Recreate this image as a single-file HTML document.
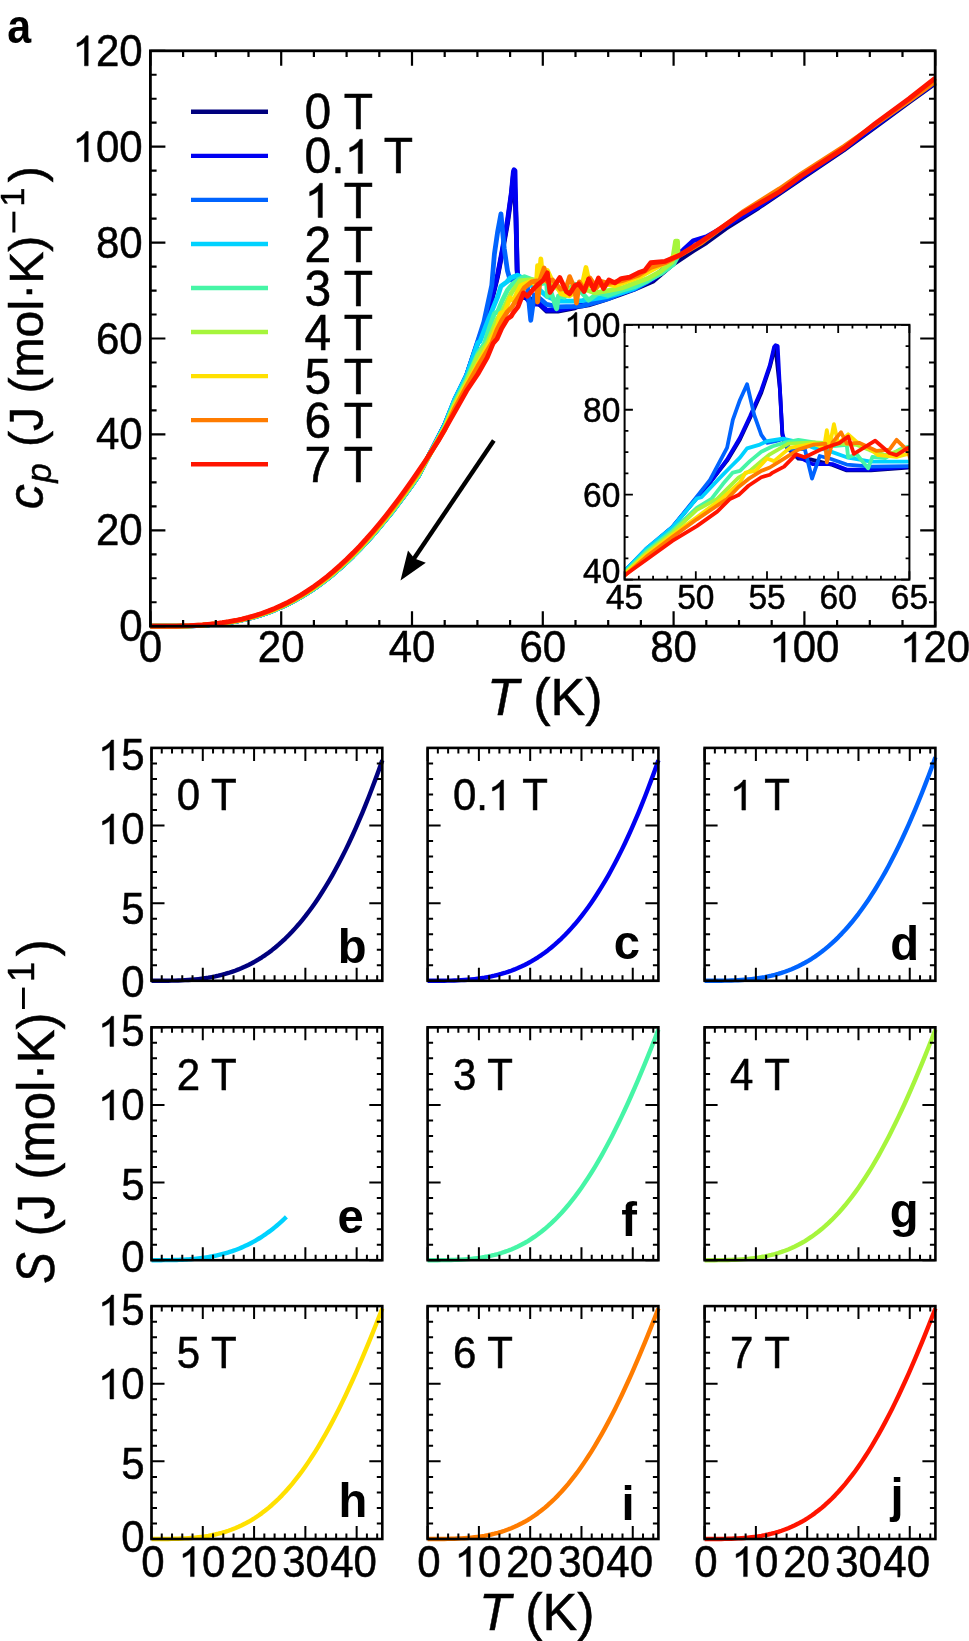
<!DOCTYPE html>
<html><head><meta charset="utf-8"><style>
html,body{margin:0;padding:0;background:#fff;width:969px;height:1641px;overflow:hidden;position:relative}
</style></head><body>
<svg width="969" height="1641" viewBox="0 0 969 1641" style="position:absolute;left:0;top:0;will-change:transform">
<g font-family='"Liberation Sans", sans-serif' fill="#000" stroke="#000" stroke-width="0">
<g fill="none" stroke-width="4.8" stroke-linejoin="round" stroke-linecap="butt">
<polyline stroke="#00007e" points="150.4,626.2 163.48,626.23 176.56,626.18 189.64,625.91 202.72,625.28 215.8,624.17 222.34,623.4 228.88,622.45 235.42,621.32 241.96,619.99 248.5,618.45 255.04,616.69 261.58,614.68 268.12,612.42 274.66,609.9 281.2,607.1 287.74,604.02 294.28,600.64 300.82,596.96 307.36,592.97 313.9,588.67 320.44,584.04 326.98,579.08 333.52,573.79 340.06,568.17 346.6,562.22 353.14,555.93 359.68,549.31 366.22,542.36 372.76,535.09 379.3,527.5 385.84,519.59 392.38,511.38 398.92,502.88 405.46,494.08 412,485.02 418.54,475.69 444.7,424.81 454.51,400.84 466.61,375.42 477.14,344.25 484.59,322.68 491.79,300.14 497.67,276.17 502.25,252.19 507.48,223.42 511.41,194.65 513.37,175.47 514.02,173.07 515.99,218.62 517.16,271.37 518.6,283.36 524.49,297.74 530.05,298.7 540.18,304.94 546.72,311.17 557.84,311.17 574.85,307.81 576.81,306.85 588.58,304.94 603.62,300.14 618.01,295.34 633.71,289.59 653.33,280.96 672.95,264.18 693.22,250.75 706.3,242.6 725.92,228.22 758.62,207.6 804.4,176.43 843.64,150.06 882.88,121.29 909.04,102.11 935.2,83.41"/>
<polyline stroke="#0000f2" points="150.4,626.2 163.48,626.23 176.56,626.18 189.64,625.91 202.72,625.28 215.8,624.17 222.34,623.4 228.88,622.45 235.42,621.32 241.96,619.99 248.5,618.45 255.04,616.69 261.58,614.68 268.12,612.42 274.66,609.9 281.2,607.1 287.74,604.02 294.28,600.64 300.82,596.96 307.36,592.97 313.9,588.67 320.44,584.04 326.98,579.08 333.52,573.79 340.06,568.17 346.6,562.22 353.14,555.93 359.68,549.31 366.22,542.36 372.76,535.09 379.3,527.5 385.84,519.59 392.38,511.38 398.92,502.88 405.46,494.08 412,485.02 418.54,475.69 444.7,424.81 454.51,400.84 466.61,375.42 477.14,344.25 484.59,322.68 491.79,298.7 497.67,274.25 502.25,250.27 507.48,220.54 511.41,192.25 513.37,171.63 514.02,169.72 515.01,170.68 515.99,216.71 517.16,269.45 518.6,280.96 524.49,295.82 531.03,303.98 540.18,303.98 546.72,310.21 557.84,310.21 574.85,306.85 576.81,305.89 588.58,303.98 603.62,298.7 618.01,294.39 633.71,288.63 653.33,279.04 672.95,258.9 683.41,249.79 693.22,240.68 706.3,236.85 725.92,225.82 758.62,206.64 804.4,175.47 843.64,149.1 882.88,120.33 909.04,101.15 935.2,82.45"/>
<polyline stroke="#0064ff" points="150.4,626.2 163.48,626.23 176.56,626.18 189.64,625.91 202.72,625.28 215.8,624.17 222.34,623.4 228.88,622.45 235.42,621.32 241.96,619.99 248.5,618.45 255.04,616.69 261.58,614.68 268.12,612.42 274.66,609.9 281.2,607.1 287.74,604.02 294.28,600.64 300.82,596.96 307.36,592.97 313.9,588.67 320.44,584.04 326.98,579.08 333.52,573.79 340.06,568.17 346.6,562.22 353.14,555.93 359.68,549.31 366.22,542.36 372.76,535.09 379.3,527.5 385.84,519.59 392.38,511.38 398.92,502.88 405.46,494.08 412,485.02 418.54,475.69 444.7,424.81 454.51,399.88 466.61,374.94 477.4,342.34 483.94,321.72 491.79,285.28 494.4,254.11 497.67,231.57 500.94,213.83 504.21,248.35 507.48,270.89 510.1,280 514.02,278.08 517.95,275.21 519.91,287.67 527.43,286.71 530.77,320.28 534.3,294.87 539.53,298.22 546.72,304.46 557.84,306.85 574.85,306.37 582.04,305.89 595.12,302.54 608.2,298.7 621.28,292.95 634.36,289.11 647.44,281.92 660.52,271.37 673.6,259.38"/>
<polyline stroke="#00d2ff" points="150.4,626.2 163.48,626.23 176.56,626.18 189.64,625.91 202.72,625.28 215.8,624.17 222.34,623.4 228.88,622.45 235.42,621.32 241.96,619.99 248.5,618.45 255.04,616.69 261.58,614.68 268.12,612.42 274.66,609.9 281.2,607.1 287.74,604.02 294.28,600.64 300.82,596.96 307.36,592.97 313.9,588.67 320.44,584.04 326.98,579.08 333.52,573.79 340.06,568.17 346.6,562.22 353.14,555.93 359.68,549.31 366.22,542.36 372.76,535.09 379.3,527.5 385.84,519.59 392.38,511.38 398.92,502.88 405.46,494.08 412,485.02 418.54,475.69 444.7,424.81 454.51,399.88 466.61,375.42 477.86,342.82 480.02,341.38 487.21,322.68 493.1,307.81 497.67,296.78 500.94,286.23 506.83,281.92 510.1,278.08 517.29,275.21 524.49,279.04 531.68,285.75 536.91,287.67 546.72,296.3 557.84,301.1 574.85,301.1 582.04,300.62 595.12,298.7 608.2,296.3 621.28,292.95 634.36,288.15 647.44,280.96 660.52,273.77 673.6,264.18"/>
<polyline stroke="#46f5a6" points="150.4,626.2 163.48,626.23 176.56,626.18 189.64,625.91 202.72,625.28 215.8,624.17 222.34,623.4 228.88,622.45 235.42,621.32 241.96,619.99 248.5,618.45 255.04,616.69 261.58,614.68 268.12,612.42 274.66,609.9 281.2,607.1 287.74,604.02 294.28,600.64 300.82,596.96 307.36,592.97 313.9,588.67 320.44,584.04 326.98,579.08 333.52,573.79 340.06,568.17 346.6,562.22 353.14,555.93 359.68,549.31 366.22,542.36 372.76,535.09 379.3,527.5 385.84,519.59 392.38,511.38 398.92,502.88 405.46,494.08 412,485.02 418.54,475.69 444.7,426.73 454.51,402.75 466.61,379.26 477.86,353.36 484.59,343.3 489.83,326.51 494.4,313.57 497.67,311.65 502.25,300.62 507.48,290.07 512.72,283.84 517.95,280 524.49,276.64 531.68,279.52 538.22,284.32 546.72,282.4 547.38,296.3 551.3,292.95 556.53,308.77 558.5,295.82 564.38,297.26 570.92,287.67 574.85,284.32 582.04,292.95 588.58,300.14 598.39,292.95 608.2,295.34 621.28,290.55 634.36,286.71 647.44,280.96 660.52,273.77 673.6,264.18 678.83,254.59"/>
<polyline stroke="#a6f53c" points="150.4,626.2 163.48,626.21 176.56,626.14 189.64,625.83 202.72,625.16 215.8,623.99 222.34,623.19 228.88,622.22 235.42,621.06 241.96,619.7 248.5,618.12 255.04,616.32 261.58,614.28 268.12,611.99 274.66,609.43 281.2,606.6 287.74,603.47 294.28,600.06 300.82,596.34 307.36,592.31 313.9,587.96 320.44,583.28 326.98,578.28 333.52,572.95 340.06,567.28 346.6,561.28 353.14,554.95 359.68,548.28 366.22,541.29 372.76,533.96 379.3,526.32 385.84,518.37 392.38,510.1 398.92,501.54 405.46,492.7 412,483.58 418.54,474.2 444.7,427.69 454.51,404.67 466.61,381.65 477.86,355.76 487.21,343.3 497.02,319.32 502.25,311.65 507.48,300.62 511.41,292.95 519.91,280.96 531.68,279.52 543.45,280.96 551.3,282.4 557.19,288.15 564.38,293.91 574.85,285.75 582.04,288.15 595.12,292.95 608.2,290.55 621.28,288.15 634.36,283.36 647.44,278.56 660.52,271.37 672.29,261.78 675.56,241.16 677.52,241.16 678.18,256.98"/>
<polyline stroke="#ffe000" points="150.4,626.2 163.48,626.21 176.56,626.11 189.64,625.78 202.72,625.09 215.8,623.9 222.34,623.09 228.88,622.1 235.42,620.92 241.96,619.55 248.5,617.96 255.04,616.14 261.58,614.08 268.12,611.77 274.66,609.19 281.2,606.34 287.74,603.2 294.28,599.76 300.82,596.02 307.36,591.97 313.9,587.6 320.44,582.91 326.98,577.88 333.52,572.53 340.06,566.84 346.6,560.82 353.14,554.46 359.68,547.77 366.22,540.75 372.76,533.4 379.3,525.73 385.84,517.75 392.38,509.46 398.92,500.88 405.46,492.01 412,482.86 418.54,473.45 444.7,428.65 454.51,406.59 466.61,384.05 477.86,363.91 489.17,343.3 497.67,324.59 500.29,313.57 504.87,311.65 510.1,297.74 513.37,300.62 517.95,291.03 520.56,285.75 531.68,280.96 536.26,285.75 537.57,265.62 538.88,283.36 540.84,258.9 542.8,280.96 547.38,270.41 551.3,279.04 557.84,287.67 561.11,293.91 569.61,295.82 574.85,292.47 578.77,283.36 582.04,285.75 585.96,267.53 589.89,285.75 601.66,283.36 614.74,285.75 627.82,280.96 640.9,276.17 653.98,268.97 667.06,261.78 676.87,254.59"/>
<polyline stroke="#ff7c00" points="150.4,626.2 163.48,626.2 176.56,626.08 189.64,625.73 202.72,625.01 215.8,623.78 222.34,622.95 228.88,621.94 235.42,620.74 241.96,619.35 248.5,617.74 255.04,615.9 261.58,613.82 268.12,611.48 274.66,608.88 281.2,606 287.74,602.84 294.28,599.37 300.82,595.61 307.36,591.53 313.9,587.13 320.44,582.4 326.98,577.35 333.52,571.97 340.06,566.25 346.6,560.19 353.14,553.8 359.68,547.08 366.22,540.03 372.76,532.65 379.3,524.95 385.84,516.93 392.38,508.61 398.92,499.99 405.46,491.08 412,481.9 418.54,472.46 444.7,430.08 454.51,408.99 466.61,386.45 477.86,366.31 491.79,343.3 497.02,329.87 501.6,320.76 507.48,311.65 511.41,307.81 517.95,297.74 524.49,287.67 531.68,281.92 536.91,280.96 537.57,302.06 540.18,279.52 544.11,268.01 546.72,280.96 552.61,280 560.46,289.11 566.34,287.67 569.61,276.64 574.85,289.11 576.48,303.02 579.42,281.92 584.66,290.55 589.89,278.08 596.43,287.67 601.66,281.44 608.2,283.36 621.28,280.96 638.28,275.21 650.71,267.53 665.1,262.74 680.14,255.07 701.72,242.6 742.27,212.39 779.55,188.9 801.13,174.03 844.29,146.22 875.03,124.64 909.04,100.67 935.2,81.49"/>
<polyline stroke="#ff1400" points="150.4,626.2 163.48,626.18 176.56,626.04 189.64,625.64 202.72,624.88 215.8,623.6 222.34,622.74 228.88,621.7 235.42,620.48 241.96,619.05 248.5,617.41 255.04,615.54 261.58,613.42 268.12,611.05 274.66,608.41 281.2,605.49 287.74,602.29 294.28,598.79 300.82,594.98 307.36,590.86 313.9,586.42 320.44,581.65 326.98,576.55 333.52,571.12 340.06,565.36 346.6,559.26 353.14,552.82 359.68,546.05 366.22,538.95 372.76,531.52 379.3,523.77 385.84,515.7 392.38,507.33 398.92,498.66 405.46,489.7 412,480.46 418.54,470.96 425.08,461.22 431.62,451.24 438.16,441.04 454.51,412.34 466.61,390.77 477.86,373.98 487.21,357.68 493.1,343.3 497.02,338.98 501.6,328.43 507.48,318.84 511.41,315.96 512.72,313.57 517.95,306.85 523.44,292.95 527.43,296.3 534.3,288.15 538.22,284.32 543.45,280 547.38,272.81 549.99,292.47 559.8,277.6 566.34,291.51 569.61,293.91 574.85,285.75 578.77,283.84 584,291.51 588.58,279.04 593.81,289.59 598.39,278.08 603.62,288.63 608.85,280 614.74,282.88 621.28,278.56 629.78,277.12 638.28,272.81 644.82,270.41 650.71,262.74 665.1,261.3 680.14,255.07 701.72,241.16 742.27,213.35 779.55,191.77 801.13,175.95 844.29,148.14 875.03,123.68 909.04,98.75 935.2,78.13"/>
</g>
<path d="M150.4 626.2v-15M150.4 50.8v15M183.1 626.2v-6.2M183.1 50.8v6.2M215.8 626.2v-6.2M215.8 50.8v6.2M248.5 626.2v-6.2M248.5 50.8v6.2M281.2 626.2v-15M281.2 50.8v15M313.9 626.2v-6.2M313.9 50.8v6.2M346.6 626.2v-6.2M346.6 50.8v6.2M379.3 626.2v-6.2M379.3 50.8v6.2M412 626.2v-15M412 50.8v15M444.7 626.2v-6.2M444.7 50.8v6.2M477.4 626.2v-6.2M477.4 50.8v6.2M510.1 626.2v-6.2M510.1 50.8v6.2M542.8 626.2v-15M542.8 50.8v15M575.5 626.2v-6.2M575.5 50.8v6.2M608.2 626.2v-6.2M608.2 50.8v6.2M640.9 626.2v-6.2M640.9 50.8v6.2M673.6 626.2v-15M673.6 50.8v15M706.3 626.2v-6.2M706.3 50.8v6.2M739 626.2v-6.2M739 50.8v6.2M771.7 626.2v-6.2M771.7 50.8v6.2M804.4 626.2v-15M804.4 50.8v15M837.1 626.2v-6.2M837.1 50.8v6.2M869.8 626.2v-6.2M869.8 50.8v6.2M902.5 626.2v-6.2M902.5 50.8v6.2M935.2 626.2v-15M935.2 50.8v15M150.4 626.2h15M935.2 626.2h-15M150.4 602.23h6.2M935.2 602.23h-6.2M150.4 578.25h6.2M935.2 578.25h-6.2M150.4 554.28h6.2M935.2 554.28h-6.2M150.4 530.3h15M935.2 530.3h-15M150.4 506.33h6.2M935.2 506.33h-6.2M150.4 482.35h6.2M935.2 482.35h-6.2M150.4 458.38h6.2M935.2 458.38h-6.2M150.4 434.4h15M935.2 434.4h-15M150.4 410.43h6.2M935.2 410.43h-6.2M150.4 386.45h6.2M935.2 386.45h-6.2M150.4 362.48h6.2M935.2 362.48h-6.2M150.4 338.5h15M935.2 338.5h-15M150.4 314.52h6.2M935.2 314.52h-6.2M150.4 290.55h6.2M935.2 290.55h-6.2M150.4 266.57h6.2M935.2 266.57h-6.2M150.4 242.6h15M935.2 242.6h-15M150.4 218.62h6.2M935.2 218.62h-6.2M150.4 194.65h6.2M935.2 194.65h-6.2M150.4 170.68h6.2M935.2 170.68h-6.2M150.4 146.7h15M935.2 146.7h-15M150.4 122.72h6.2M935.2 122.72h-6.2M150.4 98.75h6.2M935.2 98.75h-6.2M150.4 74.77h6.2M935.2 74.77h-6.2M150.4 50.8h15M935.2 50.8h-15" stroke="#000" stroke-width="2.2" fill="none"/>
<rect x="150.4" y="50.8" width="784.8" height="575.4" fill="none" stroke="#000" stroke-width="2.8"/>
<text transform="translate(150.4,662) scale(1.0,1.04)" font-size="42" text-anchor="middle" font-weight="normal" font-style="normal" stroke-width="0.5">0</text>
<text transform="translate(281.2,662) scale(1.0,1.04)" font-size="42" text-anchor="middle" font-weight="normal" font-style="normal" stroke-width="0.5">20</text>
<text transform="translate(412,662) scale(1.0,1.04)" font-size="42" text-anchor="middle" font-weight="normal" font-style="normal" stroke-width="0.5">40</text>
<text transform="translate(542.8,662) scale(1.0,1.04)" font-size="42" text-anchor="middle" font-weight="normal" font-style="normal" stroke-width="0.5">60</text>
<text transform="translate(673.6,662) scale(1.0,1.04)" font-size="42" text-anchor="middle" font-weight="normal" font-style="normal" stroke-width="0.5">80</text>
<path d="M.3726 0L.2847 0L.2847 .5601L.2529 .5298L.2012 .4995L.1494 .4692L.1079 .4541L.1079 .5391L.1826 .5742L.2388 .624L.2949 .6738L.3184 .7158L.3726 .7158Z" transform="translate(769.37,662) scale(42,-42.02)" stroke-width="0.0119"/>
<text transform="translate(804.4,662) scale(1.0,1.04)" font-size="42" text-anchor="middle" font-weight="normal" font-style="normal" stroke-width="0.5"> 00</text>
<path d="M.3726 0L.2847 0L.2847 .5601L.2529 .5298L.2012 .4995L.1494 .4692L.1079 .4541L.1079 .5391L.1826 .5742L.2388 .624L.2949 .6738L.3184 .7158L.3726 .7158Z" transform="translate(900.17,662) scale(42,-42.02)" stroke-width="0.0119"/>
<text transform="translate(935.2,662) scale(1.0,1.04)" font-size="42" text-anchor="middle" font-weight="normal" font-style="normal" stroke-width="0.5"> 20</text>
<text transform="translate(142.6,641.2) scale(1.0,1.04)" font-size="42" text-anchor="end" font-weight="normal" font-style="normal" stroke-width="0.5">0</text>
<text transform="translate(142.6,545.3) scale(1.0,1.04)" font-size="42" text-anchor="end" font-weight="normal" font-style="normal" stroke-width="0.5">20</text>
<text transform="translate(142.6,449.4) scale(1.0,1.04)" font-size="42" text-anchor="end" font-weight="normal" font-style="normal" stroke-width="0.5">40</text>
<text transform="translate(142.6,353.5) scale(1.0,1.04)" font-size="42" text-anchor="end" font-weight="normal" font-style="normal" stroke-width="0.5">60</text>
<text transform="translate(142.6,257.6) scale(1.0,1.04)" font-size="42" text-anchor="end" font-weight="normal" font-style="normal" stroke-width="0.5">80</text>
<path d="M.3726 0L.2847 0L.2847 .5601L.2529 .5298L.2012 .4995L.1494 .4692L.1079 .4541L.1079 .5391L.1826 .5742L.2388 .624L.2949 .6738L.3184 .7158L.3726 .7158Z" transform="translate(72.54,161.7) scale(42,-42.02)" stroke-width="0.0119"/>
<text transform="translate(142.6,161.7) scale(1.0,1.04)" font-size="42" text-anchor="end" font-weight="normal" font-style="normal" stroke-width="0.5"> 00</text>
<path d="M.3726 0L.2847 0L.2847 .5601L.2529 .5298L.2012 .4995L.1494 .4692L.1079 .4541L.1079 .5391L.1826 .5742L.2388 .624L.2949 .6738L.3184 .7158L.3726 .7158Z" transform="translate(72.54,65.8) scale(42,-42.02)" stroke-width="0.0119"/>
<text transform="translate(142.6,65.8) scale(1.0,1.04)" font-size="42" text-anchor="end" font-weight="normal" font-style="normal" stroke-width="0.5"> 20</text>
<line x1="191" x2="268" y1="111.8" y2="111.8" stroke="#00007e" stroke-width="4.4"/>
<text transform="translate(304.5,129.4) scale(1.0,1.035)" font-size="48" text-anchor="start" font-weight="normal" font-style="normal" stroke-width="0.5">0 T</text>
<line x1="191" x2="268" y1="155.85" y2="155.85" stroke="#0000f2" stroke-width="4.4"/>
<path d="M.3726 0L.2847 0L.2847 .5601L.2529 .5298L.2012 .4995L.1494 .4692L.1079 .4541L.1079 .5391L.1826 .5742L.2388 .624L.2949 .6738L.3184 .7158L.3726 .7158Z" transform="translate(344.52,173.45) scale(48,-47.79)" stroke-width="0.0104"/>
<text transform="translate(304.5,173.45) scale(1.0,1.035)" font-size="48" text-anchor="start" font-weight="normal" font-style="normal" stroke-width="0.5">0.  T</text>
<line x1="191" x2="268" y1="199.9" y2="199.9" stroke="#0064ff" stroke-width="4.4"/>
<path d="M.3726 0L.2847 0L.2847 .5601L.2529 .5298L.2012 .4995L.1494 .4692L.1079 .4541L.1079 .5391L.1826 .5742L.2388 .624L.2949 .6738L.3184 .7158L.3726 .7158Z" transform="translate(304.5,217.5) scale(48,-47.79)" stroke-width="0.0104"/>
<text transform="translate(304.5,217.5) scale(1.0,1.035)" font-size="48" text-anchor="start" font-weight="normal" font-style="normal" stroke-width="0.5">  T</text>
<line x1="191" x2="268" y1="243.95" y2="243.95" stroke="#00d2ff" stroke-width="4.4"/>
<text transform="translate(304.5,261.55) scale(1.0,1.035)" font-size="48" text-anchor="start" font-weight="normal" font-style="normal" stroke-width="0.5">2 T</text>
<line x1="191" x2="268" y1="288" y2="288" stroke="#46f5a6" stroke-width="4.4"/>
<text transform="translate(304.5,305.6) scale(1.0,1.035)" font-size="48" text-anchor="start" font-weight="normal" font-style="normal" stroke-width="0.5">3 T</text>
<line x1="191" x2="268" y1="332.05" y2="332.05" stroke="#a6f53c" stroke-width="4.4"/>
<text transform="translate(304.5,349.65) scale(1.0,1.035)" font-size="48" text-anchor="start" font-weight="normal" font-style="normal" stroke-width="0.5">4 T</text>
<line x1="191" x2="268" y1="376.1" y2="376.1" stroke="#ffe000" stroke-width="4.4"/>
<text transform="translate(304.5,393.7) scale(1.0,1.035)" font-size="48" text-anchor="start" font-weight="normal" font-style="normal" stroke-width="0.5">5 T</text>
<line x1="191" x2="268" y1="420.15" y2="420.15" stroke="#ff7c00" stroke-width="4.4"/>
<text transform="translate(304.5,437.75) scale(1.0,1.035)" font-size="48" text-anchor="start" font-weight="normal" font-style="normal" stroke-width="0.5">6 T</text>
<line x1="191" x2="268" y1="464.2" y2="464.2" stroke="#ff1400" stroke-width="4.4"/>
<text transform="translate(304.5,481.8) scale(1.0,1.035)" font-size="48" text-anchor="start" font-weight="normal" font-style="normal" stroke-width="0.5">7 T</text>
<line x1="493.8" y1="440.5" x2="413" y2="560" stroke="#000" stroke-width="4.4"/>
<path d="M400.5 580.5 L408 550.5 L414.5 558.5 L425.8 562.8 Z" fill="#000"/>
<text transform="translate(487,715.2) scale(1.0,1.0)" font-size="52" text-anchor="start" font-weight="normal" font-style="normal" stroke-width="0.5"><tspan font-style="italic">T</tspan> (K)</text>
<text transform="translate(7.25,42.7) scale(0.91,1.0)" font-size="47.2" text-anchor="start" font-weight="bold" font-style="normal" >a</text>
<rect x="624.6" y="324.8" width="284.8" height="254.8" fill="#fff"/>
<clipPath id="ic"><rect x="624.6" y="324.8" width="284.8" height="254.8"/></clipPath>
<g fill="none" stroke-width="3.8" stroke-linejoin="round" clip-path="url(#ic)">
<polyline stroke="#00007e" points="624.6,571.11 645.96,549.87 672.3,527.37 695.23,499.76 711.46,480.65 727.13,460.69 739.94,439.46 749.91,418.23 761.3,392.75 769.85,367.27 774.12,350.28 775.54,348.16 779.82,388.5 782.38,435.21 785.51,445.83 798.33,458.57 810.43,459.42 832.5,464.94 846.74,470.46 870.95,470.46 907.98,467.49 912.25,466.64"/>
<polyline stroke="#0000f2" points="624.6,571.11 645.96,549.87 672.3,527.37 695.23,499.76 711.46,480.65 727.13,459.42 739.94,437.76 749.91,416.53 761.3,390.2 769.85,365.14 774.12,346.88 775.54,345.18 777.68,346.03 779.82,386.8 782.38,433.51 785.51,443.71 798.33,456.87 812.57,464.09 832.5,464.09 846.74,469.61 870.95,469.61 907.98,466.64 912.25,465.79"/>
<polyline stroke="#0064ff" points="624.6,571.11 645.96,549.02 672.3,526.94 695.8,498.06 710.04,479.8 727.13,447.53 732.82,419.93 739.94,399.97 747.06,384.25 754.18,414.83 761.3,434.79 767,442.86 775.54,441.16 784.09,438.61 788.36,449.65 804.74,448.8 812,478.53 819.69,456.02 831.08,458.99 846.74,464.52 870.95,466.64 907.98,466.21 923.64,465.79"/>
<polyline stroke="#00d2ff" points="624.6,571.11 645.96,549.02 672.3,527.37 696.8,498.49 701.5,497.21 717.16,480.65 729.98,467.49 739.94,457.72 747.06,448.38 759.88,444.56 767,441.16 782.66,438.61 798.33,442.01 813.99,447.95 825.38,449.65 846.74,457.3 870.95,461.54 907.98,461.54 923.64,461.12"/>
<polyline stroke="#46f5a6" points="624.6,572.81 645.96,551.57 672.3,530.76 696.8,507.83 711.46,498.91 722.86,484.05 732.82,472.58 739.94,470.89 749.91,461.12 761.3,451.78 772.7,446.25 784.09,442.86 798.33,439.88 813.99,442.43 828.23,446.68 846.74,444.98 848.17,457.3 856.71,454.32 868.1,468.34 872.38,456.87 885.19,458.15 899.43,449.65 907.98,446.68 923.64,454.32"/>
<polyline stroke="#a6f53c" points="624.6,573.65 645.96,553.27 672.3,532.89 696.8,509.95 717.16,498.91 738.52,477.68 749.91,470.89 761.3,461.12 769.85,454.32 788.36,443.71 813.99,442.43 839.62,443.71 856.71,444.98 869.53,450.08 885.19,455.17 907.98,447.95 923.64,450.08"/>
<polyline stroke="#ffe000" points="624.6,574.5 645.96,554.97 672.3,535.01 696.8,517.17 721.43,498.91 739.94,482.35 745.64,472.58 755.61,470.89 767,458.57 774.12,461.12 784.09,452.62 789.78,447.95 813.99,443.71 823.96,447.95 826.81,430.12 829.66,445.83 833.93,424.17 838.2,443.71 848.17,434.36 856.71,442.01 870.95,449.65 878.07,455.17 896.58,456.87 907.98,453.9 916.52,445.83 923.64,447.95"/>
<polyline stroke="#ff7c00" points="624.6,575.78 645.96,557.09 672.3,537.13 696.8,519.3 727.13,498.91 738.52,487.02 748.49,478.95 761.3,470.89 769.85,467.49 784.09,458.57 798.33,449.65 813.99,444.56 825.38,443.71 826.81,462.39 832.5,442.43 841.05,432.24 846.74,443.71 859.56,442.86 876.65,450.93 889.46,449.65 896.58,439.88 907.98,450.93 911.54,463.24 917.94,444.56"/>
<polyline stroke="#ff1400" points="610.36,585.48 645.96,560.07 672.3,540.96 696.8,526.09 717.16,511.65 729.98,498.91 738.52,495.09 748.49,485.75 761.3,477.26 769.85,474.71 772.7,472.58 784.09,466.64 796.05,454.32 804.74,457.3 819.69,450.08 828.23,446.68 839.62,442.86 848.17,436.49 853.86,453.9 875.22,440.73 889.46,453.05 896.58,455.17 907.98,447.95 916.52,446.25"/>
</g>
<path d="M624.6 579.6v-8.3M624.6 324.8v8.3M638.84 579.6v-3.8M638.84 324.8v3.8M653.08 579.6v-3.8M653.08 324.8v3.8M667.32 579.6v-3.8M667.32 324.8v3.8M681.56 579.6v-3.8M681.56 324.8v3.8M695.8 579.6v-8.3M695.8 324.8v8.3M710.04 579.6v-3.8M710.04 324.8v3.8M724.28 579.6v-3.8M724.28 324.8v3.8M738.52 579.6v-3.8M738.52 324.8v3.8M752.76 579.6v-3.8M752.76 324.8v3.8M767 579.6v-8.3M767 324.8v8.3M781.24 579.6v-3.8M781.24 324.8v3.8M795.48 579.6v-3.8M795.48 324.8v3.8M809.72 579.6v-3.8M809.72 324.8v3.8M823.96 579.6v-3.8M823.96 324.8v3.8M838.2 579.6v-8.3M838.2 324.8v8.3M852.44 579.6v-3.8M852.44 324.8v3.8M866.68 579.6v-3.8M866.68 324.8v3.8M880.92 579.6v-3.8M880.92 324.8v3.8M895.16 579.6v-3.8M895.16 324.8v3.8M909.4 579.6v-8.3M909.4 324.8v8.3M624.6 579.6h8.3M909.4 579.6h-8.3M624.6 558.37h3.8M909.4 558.37h-3.8M624.6 537.13h3.8M909.4 537.13h-3.8M624.6 515.9h3.8M909.4 515.9h-3.8M624.6 494.67h8.3M909.4 494.67h-8.3M624.6 473.43h3.8M909.4 473.43h-3.8M624.6 452.2h3.8M909.4 452.2h-3.8M624.6 430.97h3.8M909.4 430.97h-3.8M624.6 409.73h8.3M909.4 409.73h-8.3M624.6 388.5h3.8M909.4 388.5h-3.8M624.6 367.27h3.8M909.4 367.27h-3.8M624.6 346.03h3.8M909.4 346.03h-3.8M624.6 324.8h8.3M909.4 324.8h-8.3" stroke="#000" stroke-width="1.8" fill="none"/>
<rect x="624.6" y="324.8" width="284.8" height="254.8" fill="none" stroke="#000" stroke-width="2.0"/>
<text transform="translate(624.6,608.5) scale(1.0,1.04)" font-size="33.5" text-anchor="middle" font-weight="normal" font-style="normal" stroke-width="0.5">45</text>
<text transform="translate(695.8,608.5) scale(1.0,1.04)" font-size="33.5" text-anchor="middle" font-weight="normal" font-style="normal" stroke-width="0.5">50</text>
<text transform="translate(767,608.5) scale(1.0,1.04)" font-size="33.5" text-anchor="middle" font-weight="normal" font-style="normal" stroke-width="0.5">55</text>
<text transform="translate(838.2,608.5) scale(1.0,1.04)" font-size="33.5" text-anchor="middle" font-weight="normal" font-style="normal" stroke-width="0.5">60</text>
<text transform="translate(909.4,608.5) scale(1.0,1.04)" font-size="33.5" text-anchor="middle" font-weight="normal" font-style="normal" stroke-width="0.5">65</text>
<text transform="translate(620.3,583.4) scale(1.0,1.04)" font-size="33.5" text-anchor="end" font-weight="normal" font-style="normal" stroke-width="0.5">40</text>
<text transform="translate(620.3,507.4) scale(1.0,1.04)" font-size="33.5" text-anchor="end" font-weight="normal" font-style="normal" stroke-width="0.5">60</text>
<text transform="translate(620.3,422.1) scale(1.0,1.04)" font-size="33.5" text-anchor="end" font-weight="normal" font-style="normal" stroke-width="0.5">80</text>
<path d="M.3726 0L.2847 0L.2847 .5601L.2529 .5298L.2012 .4995L.1494 .4692L.1079 .4541L.1079 .5391L.1826 .5742L.2388 .624L.2949 .6738L.3184 .7158L.3726 .7158Z" transform="translate(564.42,336.6) scale(33.5,-33.52)" stroke-width="0.0149"/>
<text transform="translate(620.3,336.6) scale(1.0,1.04)" font-size="33.5" text-anchor="end" font-weight="normal" font-style="normal" stroke-width="0.5"> 00</text>
<polyline fill="none" stroke="#00007e" stroke-width="4.4" stroke-linejoin="round" points="151.5,980.8 154.84,980.8 158.19,980.8 161.53,980.78 164.88,980.76 168.22,980.72 171.57,980.67 174.91,980.59 178.26,980.48 181.6,980.34 184.95,980.17 188.29,979.96 191.64,979.71 194.98,979.42 198.33,979.07 201.67,978.66 205.02,978.2 208.36,977.68 211.71,977.08 215.05,976.42 218.4,975.68 221.74,974.86 225.09,973.96 228.43,972.97 231.78,971.89 235.12,970.71 238.47,969.43 241.81,968.04 245.16,966.55 248.5,964.94 251.85,963.22 255.19,961.37 258.54,959.39 261.88,957.29 265.23,955.05 268.57,952.67 271.92,950.15 275.26,947.48 278.61,944.66 281.95,941.68 285.3,938.55 288.64,935.25 291.99,931.78 295.33,928.13 298.68,924.32 302.02,920.32 305.37,916.14 308.71,911.76 312.06,907.2 315.4,902.44 318.75,897.48 322.09,892.31 325.44,886.94 328.78,881.35 332.13,875.55 335.47,869.53 338.82,863.29 342.16,856.81 345.51,850.11 348.85,843.18 352.2,836.01 355.54,828.59 358.89,820.94 362.23,813.03 365.58,804.87 368.92,796.46 372.27,787.8 375.61,778.87 378.96,769.68 382.3,760.22"/>
<path d="M151.5 980.8v-13M151.5 747.9v13M161.76 980.8v-5.5M161.76 747.9v5.5M172.02 980.8v-5.5M172.02 747.9v5.5M182.27 980.8v-5.5M182.27 747.9v5.5M192.53 980.8v-5.5M192.53 747.9v5.5M202.79 980.8v-13M202.79 747.9v13M213.05 980.8v-5.5M213.05 747.9v5.5M223.3 980.8v-5.5M223.3 747.9v5.5M233.56 980.8v-5.5M233.56 747.9v5.5M243.82 980.8v-5.5M243.82 747.9v5.5M254.08 980.8v-13M254.08 747.9v13M264.34 980.8v-5.5M264.34 747.9v5.5M274.59 980.8v-5.5M274.59 747.9v5.5M284.85 980.8v-5.5M284.85 747.9v5.5M295.11 980.8v-5.5M295.11 747.9v5.5M305.37 980.8v-13M305.37 747.9v13M315.62 980.8v-5.5M315.62 747.9v5.5M325.88 980.8v-5.5M325.88 747.9v5.5M336.14 980.8v-5.5M336.14 747.9v5.5M346.4 980.8v-5.5M346.4 747.9v5.5M356.66 980.8v-13M356.66 747.9v13M366.91 980.8v-5.5M366.91 747.9v5.5M377.17 980.8v-5.5M377.17 747.9v5.5M151.5 980.8h13M382.3 980.8h-13M151.5 965.27h5.5M382.3 965.27h-5.5M151.5 949.75h5.5M382.3 949.75h-5.5M151.5 934.22h5.5M382.3 934.22h-5.5M151.5 918.69h5.5M382.3 918.69h-5.5M151.5 903.17h13M382.3 903.17h-13M151.5 887.64h5.5M382.3 887.64h-5.5M151.5 872.11h5.5M382.3 872.11h-5.5M151.5 856.59h5.5M382.3 856.59h-5.5M151.5 841.06h5.5M382.3 841.06h-5.5M151.5 825.53h13M382.3 825.53h-13M151.5 810.01h5.5M382.3 810.01h-5.5M151.5 794.48h5.5M382.3 794.48h-5.5M151.5 778.95h5.5M382.3 778.95h-5.5M151.5 763.43h5.5M382.3 763.43h-5.5M151.5 747.9h13M382.3 747.9h-13" stroke="#000" stroke-width="2.0" fill="none"/>
<rect x="151.5" y="747.9" width="230.8" height="232.9" fill="none" stroke="#000" stroke-width="2.6"/>
<text transform="translate(176.8,810.1) scale(1.0,1.04)" font-size="42" text-anchor="start" font-weight="normal" font-style="normal" stroke-width="0.5">0 T</text>
<text transform="translate(366.5,962.7) scale(1.0,1.0)" font-size="47.2" text-anchor="end" font-weight="bold" font-style="normal" >b</text>
<path d="M.3726 0L.2847 0L.2847 .5601L.2529 .5298L.2012 .4995L.1494 .4692L.1079 .4541L.1079 .5391L.1826 .5742L.2388 .624L.2949 .6738L.3184 .7158L.3726 .7158Z" transform="translate(98,770.1) scale(42,-42.02)" stroke-width="0.0119"/>
<text transform="translate(144.7,770.1) scale(1.0,1.04)" font-size="42" text-anchor="end" font-weight="normal" font-style="normal" stroke-width="0.5"> 5</text>
<path d="M.3726 0L.2847 0L.2847 .5601L.2529 .5298L.2012 .4995L.1494 .4692L.1079 .4541L.1079 .5391L.1826 .5742L.2388 .624L.2949 .6738L.3184 .7158L.3726 .7158Z" transform="translate(98,844) scale(42,-42.02)" stroke-width="0.0119"/>
<text transform="translate(144.7,844) scale(1.0,1.04)" font-size="42" text-anchor="end" font-weight="normal" font-style="normal" stroke-width="0.5"> 0</text>
<text transform="translate(144.7,923.7) scale(1.0,1.04)" font-size="42" text-anchor="end" font-weight="normal" font-style="normal" stroke-width="0.5">5</text>
<text transform="translate(144.7,997.4) scale(1.0,1.04)" font-size="42" text-anchor="end" font-weight="normal" font-style="normal" stroke-width="0.5">0</text>
<polyline fill="none" stroke="#0000f2" stroke-width="4.4" stroke-linejoin="round" points="427.6,980.8 430.94,980.8 434.29,980.8 437.63,980.78 440.98,980.76 444.32,980.72 447.67,980.67 451.01,980.59 454.36,980.48 457.7,980.34 461.05,980.17 464.39,979.96 467.74,979.71 471.08,979.42 474.43,979.07 477.77,978.66 481.12,978.2 484.46,977.68 487.81,977.08 491.15,976.42 494.5,975.68 497.84,974.86 501.19,973.96 504.53,972.97 507.88,971.89 511.22,970.71 514.57,969.43 517.91,968.04 521.26,966.55 524.6,964.94 527.95,963.22 531.29,961.37 534.64,959.39 537.98,957.29 541.33,955.05 544.67,952.67 548.02,950.15 551.36,947.48 554.71,944.66 558.05,941.68 561.4,938.55 564.74,935.25 568.09,931.78 571.43,928.13 574.78,924.32 578.12,920.32 581.47,916.14 584.81,911.76 588.16,907.2 591.5,902.44 594.85,897.48 598.19,892.31 601.54,886.94 604.88,881.35 608.23,875.55 611.57,869.53 614.92,863.29 618.26,856.81 621.61,850.11 624.95,843.18 628.3,836.01 631.64,828.59 634.99,820.94 638.33,813.03 641.68,804.87 645.02,796.46 648.37,787.8 651.71,778.87 655.06,769.68 658.4,760.22"/>
<path d="M427.6 980.8v-13M427.6 747.9v13M437.86 980.8v-5.5M437.86 747.9v5.5M448.12 980.8v-5.5M448.12 747.9v5.5M458.37 980.8v-5.5M458.37 747.9v5.5M468.63 980.8v-5.5M468.63 747.9v5.5M478.89 980.8v-13M478.89 747.9v13M489.15 980.8v-5.5M489.15 747.9v5.5M499.4 980.8v-5.5M499.4 747.9v5.5M509.66 980.8v-5.5M509.66 747.9v5.5M519.92 980.8v-5.5M519.92 747.9v5.5M530.18 980.8v-13M530.18 747.9v13M540.44 980.8v-5.5M540.44 747.9v5.5M550.69 980.8v-5.5M550.69 747.9v5.5M560.95 980.8v-5.5M560.95 747.9v5.5M571.21 980.8v-5.5M571.21 747.9v5.5M581.47 980.8v-13M581.47 747.9v13M591.72 980.8v-5.5M591.72 747.9v5.5M601.98 980.8v-5.5M601.98 747.9v5.5M612.24 980.8v-5.5M612.24 747.9v5.5M622.5 980.8v-5.5M622.5 747.9v5.5M632.76 980.8v-13M632.76 747.9v13M643.01 980.8v-5.5M643.01 747.9v5.5M653.27 980.8v-5.5M653.27 747.9v5.5M427.6 980.8h13M658.4 980.8h-13M427.6 965.27h5.5M658.4 965.27h-5.5M427.6 949.75h5.5M658.4 949.75h-5.5M427.6 934.22h5.5M658.4 934.22h-5.5M427.6 918.69h5.5M658.4 918.69h-5.5M427.6 903.17h13M658.4 903.17h-13M427.6 887.64h5.5M658.4 887.64h-5.5M427.6 872.11h5.5M658.4 872.11h-5.5M427.6 856.59h5.5M658.4 856.59h-5.5M427.6 841.06h5.5M658.4 841.06h-5.5M427.6 825.53h13M658.4 825.53h-13M427.6 810.01h5.5M658.4 810.01h-5.5M427.6 794.48h5.5M658.4 794.48h-5.5M427.6 778.95h5.5M658.4 778.95h-5.5M427.6 763.43h5.5M658.4 763.43h-5.5M427.6 747.9h13M658.4 747.9h-13" stroke="#000" stroke-width="2.0" fill="none"/>
<rect x="427.6" y="747.9" width="230.8" height="232.9" fill="none" stroke="#000" stroke-width="2.6"/>
<path d="M.3726 0L.2847 0L.2847 .5601L.2529 .5298L.2012 .4995L.1494 .4692L.1079 .4541L.1079 .5391L.1826 .5742L.2388 .624L.2949 .6738L.3184 .7158L.3726 .7158Z" transform="translate(487.92,810.1) scale(42,-42.02)" stroke-width="0.0119"/>
<text transform="translate(452.9,810.1) scale(1.0,1.04)" font-size="42" text-anchor="start" font-weight="normal" font-style="normal" stroke-width="0.5">0.  T</text>
<text transform="translate(639.9,958.7) scale(1.0,1.0)" font-size="47.2" text-anchor="end" font-weight="bold" font-style="normal" >c</text>
<polyline fill="none" stroke="#0064ff" stroke-width="4.4" stroke-linejoin="round" points="704.6,980.8 707.94,980.8 711.29,980.8 714.63,980.78 717.98,980.76 721.32,980.72 724.67,980.67 728.01,980.59 731.36,980.49 734.7,980.35 738.05,980.18 741.39,979.97 744.74,979.72 748.08,979.42 751.43,979.07 754.77,978.66 758.12,978.19 761.46,977.66 764.81,977.06 768.15,976.38 771.5,975.63 774.84,974.79 778.19,973.86 781.53,972.84 784.88,971.72 788.22,970.51 791.57,969.18 794.91,967.75 798.26,966.2 801.6,964.53 804.95,962.74 808.29,960.82 811.64,958.77 814.98,956.58 818.33,954.24 821.67,951.77 825.02,949.14 828.36,946.36 831.71,943.42 835.05,940.32 838.4,937.06 841.74,933.62 845.09,930.01 848.43,926.23 851.78,922.27 855.12,918.12 858.47,913.79 861.81,909.26 865.16,904.55 868.5,899.64 871.85,894.53 875.19,889.22 878.54,883.71 881.88,877.99 885.23,872.07 888.57,865.93 891.92,859.58 895.26,853.02 898.61,846.25 901.95,839.26 905.3,832.05 908.64,824.62 911.99,816.97 915.33,809.1 918.68,801.01 922.02,792.7 925.37,784.17 928.71,775.41 932.06,766.43 935.4,757.23"/>
<path d="M704.6 980.8v-13M704.6 747.9v13M714.86 980.8v-5.5M714.86 747.9v5.5M725.12 980.8v-5.5M725.12 747.9v5.5M735.37 980.8v-5.5M735.37 747.9v5.5M745.63 980.8v-5.5M745.63 747.9v5.5M755.89 980.8v-13M755.89 747.9v13M766.15 980.8v-5.5M766.15 747.9v5.5M776.4 980.8v-5.5M776.4 747.9v5.5M786.66 980.8v-5.5M786.66 747.9v5.5M796.92 980.8v-5.5M796.92 747.9v5.5M807.18 980.8v-13M807.18 747.9v13M817.44 980.8v-5.5M817.44 747.9v5.5M827.69 980.8v-5.5M827.69 747.9v5.5M837.95 980.8v-5.5M837.95 747.9v5.5M848.21 980.8v-5.5M848.21 747.9v5.5M858.47 980.8v-13M858.47 747.9v13M868.72 980.8v-5.5M868.72 747.9v5.5M878.98 980.8v-5.5M878.98 747.9v5.5M889.24 980.8v-5.5M889.24 747.9v5.5M899.5 980.8v-5.5M899.5 747.9v5.5M909.76 980.8v-13M909.76 747.9v13M920.01 980.8v-5.5M920.01 747.9v5.5M930.27 980.8v-5.5M930.27 747.9v5.5M704.6 980.8h13M935.4 980.8h-13M704.6 965.27h5.5M935.4 965.27h-5.5M704.6 949.75h5.5M935.4 949.75h-5.5M704.6 934.22h5.5M935.4 934.22h-5.5M704.6 918.69h5.5M935.4 918.69h-5.5M704.6 903.17h13M935.4 903.17h-13M704.6 887.64h5.5M935.4 887.64h-5.5M704.6 872.11h5.5M935.4 872.11h-5.5M704.6 856.59h5.5M935.4 856.59h-5.5M704.6 841.06h5.5M935.4 841.06h-5.5M704.6 825.53h13M935.4 825.53h-13M704.6 810.01h5.5M935.4 810.01h-5.5M704.6 794.48h5.5M935.4 794.48h-5.5M704.6 778.95h5.5M935.4 778.95h-5.5M704.6 763.43h5.5M935.4 763.43h-5.5M704.6 747.9h13M935.4 747.9h-13" stroke="#000" stroke-width="2.0" fill="none"/>
<rect x="704.6" y="747.9" width="230.8" height="232.9" fill="none" stroke="#000" stroke-width="2.6"/>
<path d="M.3726 0L.2847 0L.2847 .5601L.2529 .5298L.2012 .4995L.1494 .4692L.1079 .4541L.1079 .5391L.1826 .5742L.2388 .624L.2949 .6738L.3184 .7158L.3726 .7158Z" transform="translate(729.9,810.1) scale(42,-42.02)" stroke-width="0.0119"/>
<text transform="translate(729.9,810.1) scale(1.0,1.04)" font-size="42" text-anchor="start" font-weight="normal" font-style="normal" stroke-width="0.5">  T</text>
<text transform="translate(919.1,959.5) scale(1.0,1.0)" font-size="47.2" text-anchor="end" font-weight="bold" font-style="normal" >d</text>
<polyline fill="none" stroke="#00d2ff" stroke-width="4.4" stroke-linejoin="round" points="151.5,1260.2 153.45,1260.2 155.41,1260.2 157.36,1260.2 159.32,1260.19 161.27,1260.18 163.23,1260.17 165.18,1260.16 167.14,1260.14 169.09,1260.11 171.05,1260.08 173,1260.04 174.96,1259.99 176.91,1259.93 178.87,1259.86 180.82,1259.78 182.78,1259.69 184.73,1259.59 186.69,1259.47 188.64,1259.34 190.6,1259.2 192.55,1259.04 194.51,1258.86 196.46,1258.67 198.42,1258.46 200.37,1258.23 202.33,1257.98 204.28,1257.71 206.24,1257.42 208.19,1257.1 210.15,1256.77 212.1,1256.41 214.06,1256.03 216.01,1255.62 217.97,1255.18 219.92,1254.72 221.88,1254.23 223.83,1253.71 225.79,1253.16 227.74,1252.58 229.7,1251.97 231.65,1251.33 233.61,1250.66 235.56,1249.95 237.52,1249.2 239.47,1248.42 241.43,1247.61 243.38,1246.76 245.34,1245.87 247.29,1244.94 249.25,1243.97 251.2,1242.96 253.16,1241.91 255.11,1240.81 257.07,1239.68 259.02,1238.5 260.98,1237.27 262.93,1236 264.89,1234.69 266.84,1233.32 268.8,1231.91 270.75,1230.45 272.71,1228.93 274.66,1227.37 276.62,1225.76 278.57,1224.09 280.53,1222.37 282.48,1220.6 284.43,1218.77 286.39,1216.89"/>
<path d="M151.5 1260.2v-13M151.5 1027.3v13M161.76 1260.2v-5.5M161.76 1027.3v5.5M172.02 1260.2v-5.5M172.02 1027.3v5.5M182.27 1260.2v-5.5M182.27 1027.3v5.5M192.53 1260.2v-5.5M192.53 1027.3v5.5M202.79 1260.2v-13M202.79 1027.3v13M213.05 1260.2v-5.5M213.05 1027.3v5.5M223.3 1260.2v-5.5M223.3 1027.3v5.5M233.56 1260.2v-5.5M233.56 1027.3v5.5M243.82 1260.2v-5.5M243.82 1027.3v5.5M254.08 1260.2v-13M254.08 1027.3v13M264.34 1260.2v-5.5M264.34 1027.3v5.5M274.59 1260.2v-5.5M274.59 1027.3v5.5M284.85 1260.2v-5.5M284.85 1027.3v5.5M295.11 1260.2v-5.5M295.11 1027.3v5.5M305.37 1260.2v-13M305.37 1027.3v13M315.62 1260.2v-5.5M315.62 1027.3v5.5M325.88 1260.2v-5.5M325.88 1027.3v5.5M336.14 1260.2v-5.5M336.14 1027.3v5.5M346.4 1260.2v-5.5M346.4 1027.3v5.5M356.66 1260.2v-13M356.66 1027.3v13M366.91 1260.2v-5.5M366.91 1027.3v5.5M377.17 1260.2v-5.5M377.17 1027.3v5.5M151.5 1260.2h13M382.3 1260.2h-13M151.5 1244.67h5.5M382.3 1244.67h-5.5M151.5 1229.15h5.5M382.3 1229.15h-5.5M151.5 1213.62h5.5M382.3 1213.62h-5.5M151.5 1198.09h5.5M382.3 1198.09h-5.5M151.5 1182.57h13M382.3 1182.57h-13M151.5 1167.04h5.5M382.3 1167.04h-5.5M151.5 1151.51h5.5M382.3 1151.51h-5.5M151.5 1135.99h5.5M382.3 1135.99h-5.5M151.5 1120.46h5.5M382.3 1120.46h-5.5M151.5 1104.93h13M382.3 1104.93h-13M151.5 1089.41h5.5M382.3 1089.41h-5.5M151.5 1073.88h5.5M382.3 1073.88h-5.5M151.5 1058.35h5.5M382.3 1058.35h-5.5M151.5 1042.83h5.5M382.3 1042.83h-5.5M151.5 1027.3h13M382.3 1027.3h-13" stroke="#000" stroke-width="2.0" fill="none"/>
<rect x="151.5" y="1027.3" width="230.8" height="232.9" fill="none" stroke="#000" stroke-width="2.6"/>
<text transform="translate(176.8,1089.5) scale(1.0,1.04)" font-size="42" text-anchor="start" font-weight="normal" font-style="normal" stroke-width="0.5">2 T</text>
<text transform="translate(363.8,1232.8) scale(1.0,1.0)" font-size="47.2" text-anchor="end" font-weight="bold" font-style="normal" >e</text>
<path d="M.3726 0L.2847 0L.2847 .5601L.2529 .5298L.2012 .4995L.1494 .4692L.1079 .4541L.1079 .5391L.1826 .5742L.2388 .624L.2949 .6738L.3184 .7158L.3726 .7158Z" transform="translate(98,1046.4) scale(42,-42.02)" stroke-width="0.0119"/>
<text transform="translate(144.7,1046.4) scale(1.0,1.04)" font-size="42" text-anchor="end" font-weight="normal" font-style="normal" stroke-width="0.5"> 5</text>
<path d="M.3726 0L.2847 0L.2847 .5601L.2529 .5298L.2012 .4995L.1494 .4692L.1079 .4541L.1079 .5391L.1826 .5742L.2388 .624L.2949 .6738L.3184 .7158L.3726 .7158Z" transform="translate(98,1120) scale(42,-42.02)" stroke-width="0.0119"/>
<text transform="translate(144.7,1120) scale(1.0,1.04)" font-size="42" text-anchor="end" font-weight="normal" font-style="normal" stroke-width="0.5"> 0</text>
<text transform="translate(144.7,1199.5) scale(1.0,1.04)" font-size="42" text-anchor="end" font-weight="normal" font-style="normal" stroke-width="0.5">5</text>
<text transform="translate(144.7,1272.4) scale(1.0,1.04)" font-size="42" text-anchor="end" font-weight="normal" font-style="normal" stroke-width="0.5">0</text>
<polyline fill="none" stroke="#46f5a6" stroke-width="4.4" stroke-linejoin="round" points="427.6,1260.2 430.94,1260.2 434.29,1260.2 437.63,1260.19 440.98,1260.16 444.32,1260.13 447.67,1260.08 451.01,1260 454.36,1259.9 457.7,1259.77 461.05,1259.6 464.39,1259.39 467.74,1259.14 471.08,1258.84 474.43,1258.48 477.77,1258.06 481.12,1257.58 484.46,1257.03 487.81,1256.4 491.15,1255.69 494.5,1254.89 497.84,1254.01 501.19,1253.02 504.53,1251.94 507.88,1250.74 511.22,1249.44 514.57,1248.01 517.91,1246.46 521.26,1244.79 524.6,1242.98 527.95,1241.03 531.29,1238.94 534.64,1236.7 537.98,1234.31 541.33,1231.76 544.67,1229.05 548.02,1226.18 551.36,1223.14 554.71,1219.93 558.05,1216.54 561.4,1212.98 564.74,1209.23 568.09,1205.3 571.43,1201.18 574.78,1196.88 578.12,1192.39 581.47,1187.71 584.81,1182.83 588.16,1177.77 591.5,1172.51 594.85,1167.05 598.19,1161.41 601.54,1155.57 604.88,1149.55 608.23,1143.33 611.57,1136.93 614.92,1130.34 618.26,1123.57 621.61,1116.63 624.95,1109.5 628.3,1102.21 631.64,1094.74 634.99,1087.12 638.33,1079.34 641.68,1071.4 645.02,1063.32 648.37,1055.1 651.71,1046.74 655.06,1038.26 658.4,1029.66"/>
<path d="M427.6 1260.2v-13M427.6 1027.3v13M437.86 1260.2v-5.5M437.86 1027.3v5.5M448.12 1260.2v-5.5M448.12 1027.3v5.5M458.37 1260.2v-5.5M458.37 1027.3v5.5M468.63 1260.2v-5.5M468.63 1027.3v5.5M478.89 1260.2v-13M478.89 1027.3v13M489.15 1260.2v-5.5M489.15 1027.3v5.5M499.4 1260.2v-5.5M499.4 1027.3v5.5M509.66 1260.2v-5.5M509.66 1027.3v5.5M519.92 1260.2v-5.5M519.92 1027.3v5.5M530.18 1260.2v-13M530.18 1027.3v13M540.44 1260.2v-5.5M540.44 1027.3v5.5M550.69 1260.2v-5.5M550.69 1027.3v5.5M560.95 1260.2v-5.5M560.95 1027.3v5.5M571.21 1260.2v-5.5M571.21 1027.3v5.5M581.47 1260.2v-13M581.47 1027.3v13M591.72 1260.2v-5.5M591.72 1027.3v5.5M601.98 1260.2v-5.5M601.98 1027.3v5.5M612.24 1260.2v-5.5M612.24 1027.3v5.5M622.5 1260.2v-5.5M622.5 1027.3v5.5M632.76 1260.2v-13M632.76 1027.3v13M643.01 1260.2v-5.5M643.01 1027.3v5.5M653.27 1260.2v-5.5M653.27 1027.3v5.5M427.6 1260.2h13M658.4 1260.2h-13M427.6 1244.67h5.5M658.4 1244.67h-5.5M427.6 1229.15h5.5M658.4 1229.15h-5.5M427.6 1213.62h5.5M658.4 1213.62h-5.5M427.6 1198.09h5.5M658.4 1198.09h-5.5M427.6 1182.57h13M658.4 1182.57h-13M427.6 1167.04h5.5M658.4 1167.04h-5.5M427.6 1151.51h5.5M658.4 1151.51h-5.5M427.6 1135.99h5.5M658.4 1135.99h-5.5M427.6 1120.46h5.5M658.4 1120.46h-5.5M427.6 1104.93h13M658.4 1104.93h-13M427.6 1089.41h5.5M658.4 1089.41h-5.5M427.6 1073.88h5.5M658.4 1073.88h-5.5M427.6 1058.35h5.5M658.4 1058.35h-5.5M427.6 1042.83h5.5M658.4 1042.83h-5.5M427.6 1027.3h13M658.4 1027.3h-13" stroke="#000" stroke-width="2.0" fill="none"/>
<rect x="427.6" y="1027.3" width="230.8" height="232.9" fill="none" stroke="#000" stroke-width="2.6"/>
<text transform="translate(452.9,1089.5) scale(1.0,1.04)" font-size="42" text-anchor="start" font-weight="normal" font-style="normal" stroke-width="0.5">3 T</text>
<text transform="translate(637,1236.2) scale(1.0,1.0)" font-size="47.2" text-anchor="end" font-weight="bold" font-style="normal" >f</text>
<polyline fill="none" stroke="#a6f53c" stroke-width="4.4" stroke-linejoin="round" points="704.6,1260.2 707.94,1260.2 711.29,1260.2 714.63,1260.19 717.98,1260.16 721.32,1260.13 724.67,1260.08 728.01,1260 731.36,1259.9 734.7,1259.77 738.05,1259.6 741.39,1259.39 744.74,1259.14 748.08,1258.84 751.43,1258.48 754.77,1258.06 758.12,1257.58 761.46,1257.03 764.81,1256.4 768.15,1255.69 771.5,1254.89 774.84,1254.01 778.19,1253.02 781.53,1251.94 784.88,1250.74 788.22,1249.44 791.57,1248.01 794.91,1246.46 798.26,1244.79 801.6,1242.98 804.95,1241.03 808.29,1238.94 811.64,1236.7 814.98,1234.31 818.33,1231.76 821.67,1229.05 825.02,1226.18 828.36,1223.14 831.71,1219.93 835.05,1216.54 838.4,1212.98 841.74,1209.23 845.09,1205.3 848.43,1201.18 851.78,1196.88 855.12,1192.39 858.47,1187.71 861.81,1182.83 865.16,1177.77 868.5,1172.51 871.85,1167.05 875.19,1161.41 878.54,1155.57 881.88,1149.55 885.23,1143.33 888.57,1136.93 891.92,1130.34 895.26,1123.57 898.61,1116.63 901.95,1109.5 905.3,1102.21 908.64,1094.74 911.99,1087.12 915.33,1079.34 918.68,1071.4 922.02,1063.32 925.37,1055.1 928.71,1046.74 932.06,1038.26 935.4,1029.66"/>
<path d="M704.6 1260.2v-13M704.6 1027.3v13M714.86 1260.2v-5.5M714.86 1027.3v5.5M725.12 1260.2v-5.5M725.12 1027.3v5.5M735.37 1260.2v-5.5M735.37 1027.3v5.5M745.63 1260.2v-5.5M745.63 1027.3v5.5M755.89 1260.2v-13M755.89 1027.3v13M766.15 1260.2v-5.5M766.15 1027.3v5.5M776.4 1260.2v-5.5M776.4 1027.3v5.5M786.66 1260.2v-5.5M786.66 1027.3v5.5M796.92 1260.2v-5.5M796.92 1027.3v5.5M807.18 1260.2v-13M807.18 1027.3v13M817.44 1260.2v-5.5M817.44 1027.3v5.5M827.69 1260.2v-5.5M827.69 1027.3v5.5M837.95 1260.2v-5.5M837.95 1027.3v5.5M848.21 1260.2v-5.5M848.21 1027.3v5.5M858.47 1260.2v-13M858.47 1027.3v13M868.72 1260.2v-5.5M868.72 1027.3v5.5M878.98 1260.2v-5.5M878.98 1027.3v5.5M889.24 1260.2v-5.5M889.24 1027.3v5.5M899.5 1260.2v-5.5M899.5 1027.3v5.5M909.76 1260.2v-13M909.76 1027.3v13M920.01 1260.2v-5.5M920.01 1027.3v5.5M930.27 1260.2v-5.5M930.27 1027.3v5.5M704.6 1260.2h13M935.4 1260.2h-13M704.6 1244.67h5.5M935.4 1244.67h-5.5M704.6 1229.15h5.5M935.4 1229.15h-5.5M704.6 1213.62h5.5M935.4 1213.62h-5.5M704.6 1198.09h5.5M935.4 1198.09h-5.5M704.6 1182.57h13M935.4 1182.57h-13M704.6 1167.04h5.5M935.4 1167.04h-5.5M704.6 1151.51h5.5M935.4 1151.51h-5.5M704.6 1135.99h5.5M935.4 1135.99h-5.5M704.6 1120.46h5.5M935.4 1120.46h-5.5M704.6 1104.93h13M935.4 1104.93h-13M704.6 1089.41h5.5M935.4 1089.41h-5.5M704.6 1073.88h5.5M935.4 1073.88h-5.5M704.6 1058.35h5.5M935.4 1058.35h-5.5M704.6 1042.83h5.5M935.4 1042.83h-5.5M704.6 1027.3h13M935.4 1027.3h-13" stroke="#000" stroke-width="2.0" fill="none"/>
<rect x="704.6" y="1027.3" width="230.8" height="232.9" fill="none" stroke="#000" stroke-width="2.6"/>
<text transform="translate(729.9,1089.5) scale(1.0,1.04)" font-size="42" text-anchor="start" font-weight="normal" font-style="normal" stroke-width="0.5">4 T</text>
<text transform="translate(918.7,1226.5) scale(1.0,1.0)" font-size="47.2" text-anchor="end" font-weight="bold" font-style="normal" >g</text>
<polyline fill="none" stroke="#ffe000" stroke-width="4.4" stroke-linejoin="round" points="151.5,1539 154.84,1539 158.19,1539 161.53,1538.99 164.88,1538.96 168.22,1538.93 171.57,1538.88 174.91,1538.8 178.26,1538.7 181.6,1538.57 184.95,1538.4 188.29,1538.19 191.64,1537.94 194.98,1537.64 198.33,1537.28 201.67,1536.86 205.02,1536.38 208.36,1535.83 211.71,1535.2 215.05,1534.49 218.4,1533.69 221.74,1532.81 225.09,1531.82 228.43,1530.74 231.78,1529.54 235.12,1528.24 238.47,1526.81 241.81,1525.26 245.16,1523.59 248.5,1521.78 251.85,1519.83 255.19,1517.74 258.54,1515.5 261.88,1513.11 265.23,1510.56 268.57,1507.85 271.92,1504.98 275.26,1501.94 278.61,1498.73 281.95,1495.34 285.3,1491.78 288.64,1488.03 291.99,1484.1 295.33,1479.98 298.68,1475.68 302.02,1471.19 305.37,1466.51 308.71,1461.63 312.06,1456.57 315.4,1451.31 318.75,1445.85 322.09,1440.21 325.44,1434.37 328.78,1428.35 332.13,1422.13 335.47,1415.73 338.82,1409.14 342.16,1402.37 345.51,1395.43 348.85,1388.3 352.2,1381.01 355.54,1373.54 358.89,1365.92 362.23,1358.14 365.58,1350.2 368.92,1342.12 372.27,1333.9 375.61,1325.54 378.96,1317.06 382.3,1308.46"/>
<path d="M151.5 1539v-13M151.5 1306.1v13M161.76 1539v-5.5M161.76 1306.1v5.5M172.02 1539v-5.5M172.02 1306.1v5.5M182.27 1539v-5.5M182.27 1306.1v5.5M192.53 1539v-5.5M192.53 1306.1v5.5M202.79 1539v-13M202.79 1306.1v13M213.05 1539v-5.5M213.05 1306.1v5.5M223.3 1539v-5.5M223.3 1306.1v5.5M233.56 1539v-5.5M233.56 1306.1v5.5M243.82 1539v-5.5M243.82 1306.1v5.5M254.08 1539v-13M254.08 1306.1v13M264.34 1539v-5.5M264.34 1306.1v5.5M274.59 1539v-5.5M274.59 1306.1v5.5M284.85 1539v-5.5M284.85 1306.1v5.5M295.11 1539v-5.5M295.11 1306.1v5.5M305.37 1539v-13M305.37 1306.1v13M315.62 1539v-5.5M315.62 1306.1v5.5M325.88 1539v-5.5M325.88 1306.1v5.5M336.14 1539v-5.5M336.14 1306.1v5.5M346.4 1539v-5.5M346.4 1306.1v5.5M356.66 1539v-13M356.66 1306.1v13M366.91 1539v-5.5M366.91 1306.1v5.5M377.17 1539v-5.5M377.17 1306.1v5.5M151.5 1539h13M382.3 1539h-13M151.5 1523.47h5.5M382.3 1523.47h-5.5M151.5 1507.95h5.5M382.3 1507.95h-5.5M151.5 1492.42h5.5M382.3 1492.42h-5.5M151.5 1476.89h5.5M382.3 1476.89h-5.5M151.5 1461.37h13M382.3 1461.37h-13M151.5 1445.84h5.5M382.3 1445.84h-5.5M151.5 1430.31h5.5M382.3 1430.31h-5.5M151.5 1414.79h5.5M382.3 1414.79h-5.5M151.5 1399.26h5.5M382.3 1399.26h-5.5M151.5 1383.73h13M382.3 1383.73h-13M151.5 1368.21h5.5M382.3 1368.21h-5.5M151.5 1352.68h5.5M382.3 1352.68h-5.5M151.5 1337.15h5.5M382.3 1337.15h-5.5M151.5 1321.63h5.5M382.3 1321.63h-5.5M151.5 1306.1h13M382.3 1306.1h-13" stroke="#000" stroke-width="2.0" fill="none"/>
<rect x="151.5" y="1306.1" width="230.8" height="232.9" fill="none" stroke="#000" stroke-width="2.6"/>
<text transform="translate(176.8,1368.3) scale(1.0,1.04)" font-size="42" text-anchor="start" font-weight="normal" font-style="normal" stroke-width="0.5">5 T</text>
<text transform="translate(367.3,1517.4) scale(1.0,1.0)" font-size="47.2" text-anchor="end" font-weight="bold" font-style="normal" >h</text>
<path d="M.3726 0L.2847 0L.2847 .5601L.2529 .5298L.2012 .4995L.1494 .4692L.1079 .4541L.1079 .5391L.1826 .5742L.2388 .624L.2949 .6738L.3184 .7158L.3726 .7158Z" transform="translate(98,1325.2) scale(42,-42.02)" stroke-width="0.0119"/>
<text transform="translate(144.7,1325.2) scale(1.0,1.04)" font-size="42" text-anchor="end" font-weight="normal" font-style="normal" stroke-width="0.5"> 5</text>
<path d="M.3726 0L.2847 0L.2847 .5601L.2529 .5298L.2012 .4995L.1494 .4692L.1079 .4541L.1079 .5391L.1826 .5742L.2388 .624L.2949 .6738L.3184 .7158L.3726 .7158Z" transform="translate(98,1399) scale(42,-42.02)" stroke-width="0.0119"/>
<text transform="translate(144.7,1399) scale(1.0,1.04)" font-size="42" text-anchor="end" font-weight="normal" font-style="normal" stroke-width="0.5"> 0</text>
<text transform="translate(144.7,1478.6) scale(1.0,1.04)" font-size="42" text-anchor="end" font-weight="normal" font-style="normal" stroke-width="0.5">5</text>
<text transform="translate(144.7,1552.4) scale(1.0,1.04)" font-size="42" text-anchor="end" font-weight="normal" font-style="normal" stroke-width="0.5">0</text>
<text transform="translate(152.8,1576.6) scale(1.0,1.04)" font-size="42" text-anchor="middle" font-weight="normal" font-style="normal" stroke-width="0.5">0</text>
<path d="M.3726 0L.2847 0L.2847 .5601L.2529 .5298L.2012 .4995L.1494 .4692L.1079 .4541L.1079 .5391L.1826 .5742L.2388 .624L.2949 .6738L.3184 .7158L.3726 .7158Z" transform="translate(178.54,1576.6) scale(42,-42.02)" stroke-width="0.0119"/>
<text transform="translate(201.89,1576.6) scale(1.0,1.04)" font-size="42" text-anchor="middle" font-weight="normal" font-style="normal" stroke-width="0.5"> 0</text>
<text transform="translate(253.48,1576.6) scale(1.0,1.04)" font-size="42" text-anchor="middle" font-weight="normal" font-style="normal" stroke-width="0.5">20</text>
<text transform="translate(305.47,1576.6) scale(1.0,1.04)" font-size="42" text-anchor="middle" font-weight="normal" font-style="normal" stroke-width="0.5">30</text>
<text transform="translate(353.56,1576.6) scale(1.0,1.04)" font-size="42" text-anchor="middle" font-weight="normal" font-style="normal" stroke-width="0.5">40</text>
<polyline fill="none" stroke="#ff7c00" stroke-width="4.4" stroke-linejoin="round" points="427.6,1539 430.94,1539 434.29,1539 437.63,1538.99 440.98,1538.96 444.32,1538.93 447.67,1538.88 451.01,1538.8 454.36,1538.7 457.7,1538.57 461.05,1538.4 464.39,1538.19 467.74,1537.94 471.08,1537.64 474.43,1537.28 477.77,1536.86 481.12,1536.38 484.46,1535.83 487.81,1535.2 491.15,1534.49 494.5,1533.69 497.84,1532.81 501.19,1531.82 504.53,1530.74 507.88,1529.54 511.22,1528.24 514.57,1526.81 517.91,1525.26 521.26,1523.59 524.6,1521.78 527.95,1519.83 531.29,1517.74 534.64,1515.5 537.98,1513.11 541.33,1510.56 544.67,1507.85 548.02,1504.98 551.36,1501.94 554.71,1498.73 558.05,1495.34 561.4,1491.78 564.74,1488.03 568.09,1484.1 571.43,1479.98 574.78,1475.68 578.12,1471.19 581.47,1466.51 584.81,1461.63 588.16,1456.57 591.5,1451.31 594.85,1445.85 598.19,1440.21 601.54,1434.37 604.88,1428.35 608.23,1422.13 611.57,1415.73 614.92,1409.14 618.26,1402.37 621.61,1395.43 624.95,1388.3 628.3,1381.01 631.64,1373.54 634.99,1365.92 638.33,1358.14 641.68,1350.2 645.02,1342.12 648.37,1333.9 651.71,1325.54 655.06,1317.06 658.4,1308.46"/>
<path d="M427.6 1539v-13M427.6 1306.1v13M437.86 1539v-5.5M437.86 1306.1v5.5M448.12 1539v-5.5M448.12 1306.1v5.5M458.37 1539v-5.5M458.37 1306.1v5.5M468.63 1539v-5.5M468.63 1306.1v5.5M478.89 1539v-13M478.89 1306.1v13M489.15 1539v-5.5M489.15 1306.1v5.5M499.4 1539v-5.5M499.4 1306.1v5.5M509.66 1539v-5.5M509.66 1306.1v5.5M519.92 1539v-5.5M519.92 1306.1v5.5M530.18 1539v-13M530.18 1306.1v13M540.44 1539v-5.5M540.44 1306.1v5.5M550.69 1539v-5.5M550.69 1306.1v5.5M560.95 1539v-5.5M560.95 1306.1v5.5M571.21 1539v-5.5M571.21 1306.1v5.5M581.47 1539v-13M581.47 1306.1v13M591.72 1539v-5.5M591.72 1306.1v5.5M601.98 1539v-5.5M601.98 1306.1v5.5M612.24 1539v-5.5M612.24 1306.1v5.5M622.5 1539v-5.5M622.5 1306.1v5.5M632.76 1539v-13M632.76 1306.1v13M643.01 1539v-5.5M643.01 1306.1v5.5M653.27 1539v-5.5M653.27 1306.1v5.5M427.6 1539h13M658.4 1539h-13M427.6 1523.47h5.5M658.4 1523.47h-5.5M427.6 1507.95h5.5M658.4 1507.95h-5.5M427.6 1492.42h5.5M658.4 1492.42h-5.5M427.6 1476.89h5.5M658.4 1476.89h-5.5M427.6 1461.37h13M658.4 1461.37h-13M427.6 1445.84h5.5M658.4 1445.84h-5.5M427.6 1430.31h5.5M658.4 1430.31h-5.5M427.6 1414.79h5.5M658.4 1414.79h-5.5M427.6 1399.26h5.5M658.4 1399.26h-5.5M427.6 1383.73h13M658.4 1383.73h-13M427.6 1368.21h5.5M658.4 1368.21h-5.5M427.6 1352.68h5.5M658.4 1352.68h-5.5M427.6 1337.15h5.5M658.4 1337.15h-5.5M427.6 1321.63h5.5M658.4 1321.63h-5.5M427.6 1306.1h13M658.4 1306.1h-13" stroke="#000" stroke-width="2.0" fill="none"/>
<rect x="427.6" y="1306.1" width="230.8" height="232.9" fill="none" stroke="#000" stroke-width="2.6"/>
<text transform="translate(452.9,1368.3) scale(1.0,1.04)" font-size="42" text-anchor="start" font-weight="normal" font-style="normal" stroke-width="0.5">6 T</text>
<text transform="translate(634.7,1520.2) scale(1.0,1.0)" font-size="47.2" text-anchor="end" font-weight="bold" font-style="normal" >i</text>
<text transform="translate(428.9,1576.6) scale(1.0,1.04)" font-size="42" text-anchor="middle" font-weight="normal" font-style="normal" stroke-width="0.5">0</text>
<path d="M.3726 0L.2847 0L.2847 .5601L.2529 .5298L.2012 .4995L.1494 .4692L.1079 .4541L.1079 .5391L.1826 .5742L.2388 .624L.2949 .6738L.3184 .7158L.3726 .7158Z" transform="translate(454.64,1576.6) scale(42,-42.02)" stroke-width="0.0119"/>
<text transform="translate(477.99,1576.6) scale(1.0,1.04)" font-size="42" text-anchor="middle" font-weight="normal" font-style="normal" stroke-width="0.5"> 0</text>
<text transform="translate(529.58,1576.6) scale(1.0,1.04)" font-size="42" text-anchor="middle" font-weight="normal" font-style="normal" stroke-width="0.5">20</text>
<text transform="translate(581.57,1576.6) scale(1.0,1.04)" font-size="42" text-anchor="middle" font-weight="normal" font-style="normal" stroke-width="0.5">30</text>
<text transform="translate(629.66,1576.6) scale(1.0,1.04)" font-size="42" text-anchor="middle" font-weight="normal" font-style="normal" stroke-width="0.5">40</text>
<polyline fill="none" stroke="#ff1400" stroke-width="4.4" stroke-linejoin="round" points="704.6,1539 707.94,1539 711.29,1539 714.63,1538.99 717.98,1538.96 721.32,1538.93 724.67,1538.88 728.01,1538.8 731.36,1538.7 734.7,1538.57 738.05,1538.4 741.39,1538.19 744.74,1537.94 748.08,1537.64 751.43,1537.28 754.77,1536.86 758.12,1536.38 761.46,1535.83 764.81,1535.2 768.15,1534.49 771.5,1533.69 774.84,1532.81 778.19,1531.82 781.53,1530.74 784.88,1529.54 788.22,1528.24 791.57,1526.81 794.91,1525.26 798.26,1523.59 801.6,1521.78 804.95,1519.83 808.29,1517.74 811.64,1515.5 814.98,1513.11 818.33,1510.56 821.67,1507.85 825.02,1504.98 828.36,1501.94 831.71,1498.73 835.05,1495.34 838.4,1491.78 841.74,1488.03 845.09,1484.1 848.43,1479.98 851.78,1475.68 855.12,1471.19 858.47,1466.51 861.81,1461.63 865.16,1456.57 868.5,1451.31 871.85,1445.85 875.19,1440.21 878.54,1434.37 881.88,1428.35 885.23,1422.13 888.57,1415.73 891.92,1409.14 895.26,1402.37 898.61,1395.43 901.95,1388.3 905.3,1381.01 908.64,1373.54 911.99,1365.92 915.33,1358.14 918.68,1350.2 922.02,1342.12 925.37,1333.9 928.71,1325.54 932.06,1317.06 935.4,1308.46"/>
<path d="M704.6 1539v-13M704.6 1306.1v13M714.86 1539v-5.5M714.86 1306.1v5.5M725.12 1539v-5.5M725.12 1306.1v5.5M735.37 1539v-5.5M735.37 1306.1v5.5M745.63 1539v-5.5M745.63 1306.1v5.5M755.89 1539v-13M755.89 1306.1v13M766.15 1539v-5.5M766.15 1306.1v5.5M776.4 1539v-5.5M776.4 1306.1v5.5M786.66 1539v-5.5M786.66 1306.1v5.5M796.92 1539v-5.5M796.92 1306.1v5.5M807.18 1539v-13M807.18 1306.1v13M817.44 1539v-5.5M817.44 1306.1v5.5M827.69 1539v-5.5M827.69 1306.1v5.5M837.95 1539v-5.5M837.95 1306.1v5.5M848.21 1539v-5.5M848.21 1306.1v5.5M858.47 1539v-13M858.47 1306.1v13M868.72 1539v-5.5M868.72 1306.1v5.5M878.98 1539v-5.5M878.98 1306.1v5.5M889.24 1539v-5.5M889.24 1306.1v5.5M899.5 1539v-5.5M899.5 1306.1v5.5M909.76 1539v-13M909.76 1306.1v13M920.01 1539v-5.5M920.01 1306.1v5.5M930.27 1539v-5.5M930.27 1306.1v5.5M704.6 1539h13M935.4 1539h-13M704.6 1523.47h5.5M935.4 1523.47h-5.5M704.6 1507.95h5.5M935.4 1507.95h-5.5M704.6 1492.42h5.5M935.4 1492.42h-5.5M704.6 1476.89h5.5M935.4 1476.89h-5.5M704.6 1461.37h13M935.4 1461.37h-13M704.6 1445.84h5.5M935.4 1445.84h-5.5M704.6 1430.31h5.5M935.4 1430.31h-5.5M704.6 1414.79h5.5M935.4 1414.79h-5.5M704.6 1399.26h5.5M935.4 1399.26h-5.5M704.6 1383.73h13M935.4 1383.73h-13M704.6 1368.21h5.5M935.4 1368.21h-5.5M704.6 1352.68h5.5M935.4 1352.68h-5.5M704.6 1337.15h5.5M935.4 1337.15h-5.5M704.6 1321.63h5.5M935.4 1321.63h-5.5M704.6 1306.1h13M935.4 1306.1h-13" stroke="#000" stroke-width="2.0" fill="none"/>
<rect x="704.6" y="1306.1" width="230.8" height="232.9" fill="none" stroke="#000" stroke-width="2.6"/>
<text transform="translate(729.9,1368.3) scale(1.0,1.04)" font-size="42" text-anchor="start" font-weight="normal" font-style="normal" stroke-width="0.5">7 T</text>
<text transform="translate(903.6,1511.8) scale(1.0,1.0)" font-size="47.2" text-anchor="end" font-weight="bold" font-style="normal" >j</text>
<text transform="translate(705.9,1576.6) scale(1.0,1.04)" font-size="42" text-anchor="middle" font-weight="normal" font-style="normal" stroke-width="0.5">0</text>
<path d="M.3726 0L.2847 0L.2847 .5601L.2529 .5298L.2012 .4995L.1494 .4692L.1079 .4541L.1079 .5391L.1826 .5742L.2388 .624L.2949 .6738L.3184 .7158L.3726 .7158Z" transform="translate(731.64,1576.6) scale(42,-42.02)" stroke-width="0.0119"/>
<text transform="translate(754.99,1576.6) scale(1.0,1.04)" font-size="42" text-anchor="middle" font-weight="normal" font-style="normal" stroke-width="0.5"> 0</text>
<text transform="translate(806.58,1576.6) scale(1.0,1.04)" font-size="42" text-anchor="middle" font-weight="normal" font-style="normal" stroke-width="0.5">20</text>
<text transform="translate(858.57,1576.6) scale(1.0,1.04)" font-size="42" text-anchor="middle" font-weight="normal" font-style="normal" stroke-width="0.5">30</text>
<text transform="translate(906.66,1576.6) scale(1.0,1.04)" font-size="42" text-anchor="middle" font-weight="normal" font-style="normal" stroke-width="0.5">40</text>
<text transform="translate(479,1629.8) scale(1.0,1.0)" font-size="52" text-anchor="start" font-weight="normal" font-style="normal" stroke-width="0.5"><tspan font-style="italic">T</tspan> (K)</text>
<g transform="translate(42.8,0) rotate(-90)" stroke-width="0.5">
<text x="-509.3" y="0" font-size="50" font-style="italic" >c</text>
<text x="-482.5" y="7.8" font-size="34.5" font-style="italic" >p</text>
<text x="-447.1" y="0" font-size="48.2" font-style="normal" >(J (mol·K)</text>
<text x="-206.5" y="-18.5" font-size="34" font-style="normal" >1</text>
<text x="-182.3" y="0" font-size="48.2" font-style="normal" >)</text>
</g>
<rect x="12.4" y="211.7" width="3" height="20.8" fill="#000"/>
<g transform="translate(53.6,0) rotate(-90) translate(-1283.8,0) scale(0.89,1)" stroke-width="0.5"><text x="0" y="0" font-size="53" font-style="italic" transform="translate(0,0)">S</text></g>
<g transform="translate(53.85,0) rotate(-90)" stroke-width="0.5">
<text x="-1236.4" y="0" font-size="51" font-style="normal" >(J (mol·K)</text>
<text x="-982" y="-19.65" font-size="36" font-style="normal" >1</text>
<text x="-956.3" y="0" font-size="51" font-style="normal" >)</text>
</g>
<rect x="22.0" y="987.6" width="2.9" height="21.4" fill="#000"/>
</g></svg>
</body></html>
